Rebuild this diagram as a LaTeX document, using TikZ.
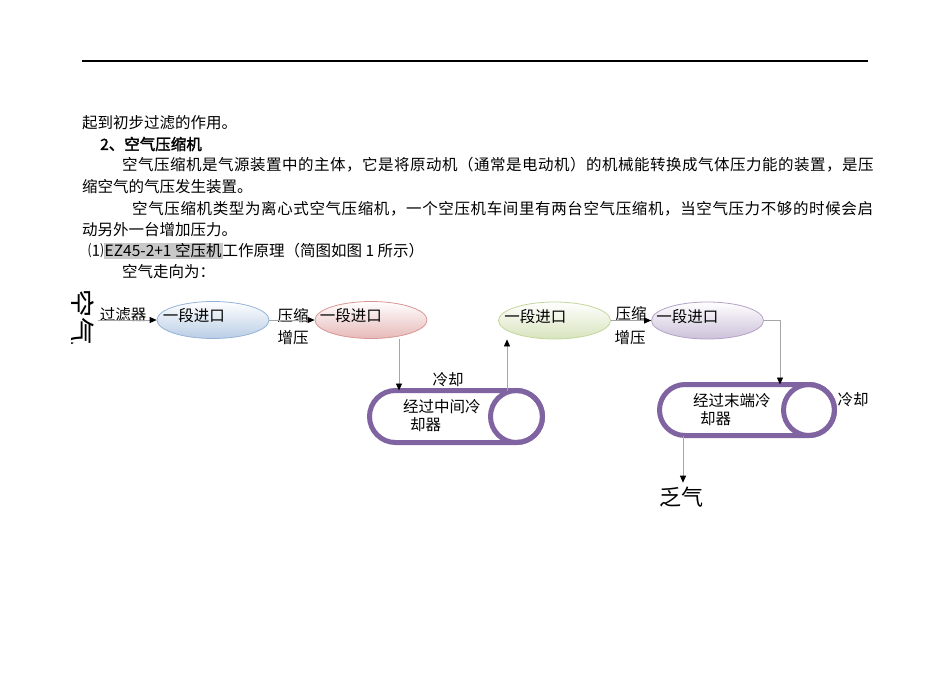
\documentclass[tikz,border=0pt]{standalone}
\usepackage{fontspec}
\setmainfont{Noto Sans CJK SC}
\newfontfamily\boldcjk[FakeBold=2]{Noto Sans CJK SC}
\setlength{\fboxsep}{1pt}
\usetikzlibrary{shapes.geometric,shapes.misc,arrows.meta,positioning,calc}
\definecolor{bluebd}{RGB}{149,179,215}
\definecolor{bluefl}{RGB}{185,205,229}
\definecolor{redbd}{RGB}{217,150,148}
\definecolor{redfl}{RGB}{230,185,184}
\definecolor{greenbd}{RGB}{195,214,155}
\definecolor{greenfl}{RGB}{215,228,189}
\definecolor{purpbd}{RGB}{179,162,199}
\definecolor{purpfl}{RGB}{204,193,218}
\definecolor{coolpurp}{RGB}{128,100,162}
\definecolor{hlgray}{RGB}{200,200,200}
\definecolor{flowgray}{RGB}{166,166,166}

\begin{document}
\begin{tikzpicture}[x=1pt, y=-1pt,
    txt/.style={inner sep=0pt, font=\fontsize{15.5}{18}\selectfont},
    stage/.style={ellipse, minimum width=112pt, minimum height=37pt, inner sep=0pt,
        line width=0.8pt, top color=white},
    cooler/.style={rounded rectangle, draw=coolpurp, line width=5pt, fill=white,
        inner sep=0pt, outer sep=0pt},
    coolring/.style={draw=coolpurp, line width=5pt},
    flow/.style={draw=flowgray, line width=0.8pt, -{Triangle[length=7pt,width=6pt,color=black]}}]
    \useasboundingbox (0,0) rectangle (950,672);

    % Header rule
    \draw[line width=1.2pt] (82,61) -- (868,61);

    % Text
    \node[txt, anchor=west] (p1) at (82,123) {起到初步过滤的作用。};
    \node[txt, anchor=west] (p2) at (100,144) {\boldcjk 2、空气压缩机};
    \node[txt, anchor=west] (p3) at (122,165) {\addfontfeature{LetterSpace=3.2}空气压缩机是气源装置中的主体，它是将原动机（通常是电动机）的机械能转换成气体压力能的装置，是压};
    \node[txt, anchor=west] (p4) at (82,187) {缩空气的气压发生装置。};
    \node[txt, anchor=west] (p5) at (132,209) {\addfontfeature{LetterSpace=4.0}空气压缩机类型为离心式空气压缩机，一个空压机车间里有两台空气压缩机，当空气压力不够的时候会启};
    \node[txt, anchor=west] (p6) at (82,230) {动另外一台增加压力。};
    \node[txt, anchor=west] (p7) at (88,251) {⑴\colorbox{hlgray}{EZ45-2+1 空压机}工作原理（简图如图 1 所示）};
    \node[txt, anchor=west] (p8) at (122,272) {空气走向为：};

    % Air in
    \begin{scope}
        \clip (71,280) rectangle (110,360);
        \node[inner sep=0pt, rotate=-90, font=\fontsize{28}{28}\selectfont] (air) at (81,317) {空气};
    \end{scope}
    \coordinate (src) at (98,320);

    % Stages
    \node[stage, draw=bluebd, bottom color=bluefl] (e1) at (213,320) {};
    \node[stage, draw=redbd, bottom color=redfl] (e2) at (371,320) {};
    \node[stage, draw=greenbd, bottom color=greenfl] (e3) at (554.5,320.5) {};
    \node[stage, draw=purpbd, bottom color=purpfl] (e4) at (707.5,320.5) {};
    \node[txt, anchor=west] (n1) at ([shift={(6,-4)}]e1.west) {一段进口};
    \node[txt, anchor=west] (n2) at ([shift={(5,-4)}]e2.west) {一段进口};
    \node[txt, anchor=west] (n3) at ([shift={(6,-4)}]e3.west) {一段进口};
    \node[txt, anchor=west] (n4) at ([shift={(5,-4)}]e4.west) {一段进口};

    % Labels
    \node[txt] (flt) at (123,315) {过滤器};
    \node[txt] (ys1) at (293,316) {压缩};
    \node[txt] (zy1) at (293,338) {增压};
    \node[txt] (ys2) at (631,314) {压缩};
    \node[txt] (zy2) at (630,338) {增压};

    % Coolers
    \node[cooler, minimum width=173pt, minimum height=52pt] (c1) at (456,416.5) {};
    \draw[coolring] ([xshift=-26pt]c1.east) circle[radius=26pt];
    \node[txt, anchor=west, align=left] (k1) at (403,416) {经过中间冷\\\hspace*{7pt}却器};
    \node[txt] (lq1) at (448,380) {冷却};

    \node[cooler, minimum width=175pt, minimum height=51pt] (c2) at (747,410) {};
    \draw[coolring] ([xshift=-25.5pt]c2.east) circle[radius=25.5pt];
    \node[txt, anchor=west, align=left] (k2) at (693,410) {经过末端冷\\\hspace*{7pt}却器};
    \node[txt] (lq2) at (853,400) {冷却};

    \node[inner sep=4pt, font=\fontsize{22}{22}\selectfont] (out) at (681,497) {乏气};

    % Flow
    \draw[flow] (src) -- (e1.west);
    \draw[flow] (e1.east) -- (e2.west);
    \draw[flow] ([xshift=28pt]e2.south) -- ([xshift=28pt]e2.south |- c1.north);
    \draw[flow] ([xshift=-47.5pt]e3.south |- c1.north) -- ([xshift=-47.5pt]e3.south);
    \draw[flow] (e3.east) -- (e4.west);
    \draw[flow] (e4.east) -| ([xshift=33pt]c2.north);
    \draw[flow] ([xshift=-64pt]c2.south) -- ([xshift=-64pt]c2.south |- out.north);
\end{tikzpicture}
\end{document}
